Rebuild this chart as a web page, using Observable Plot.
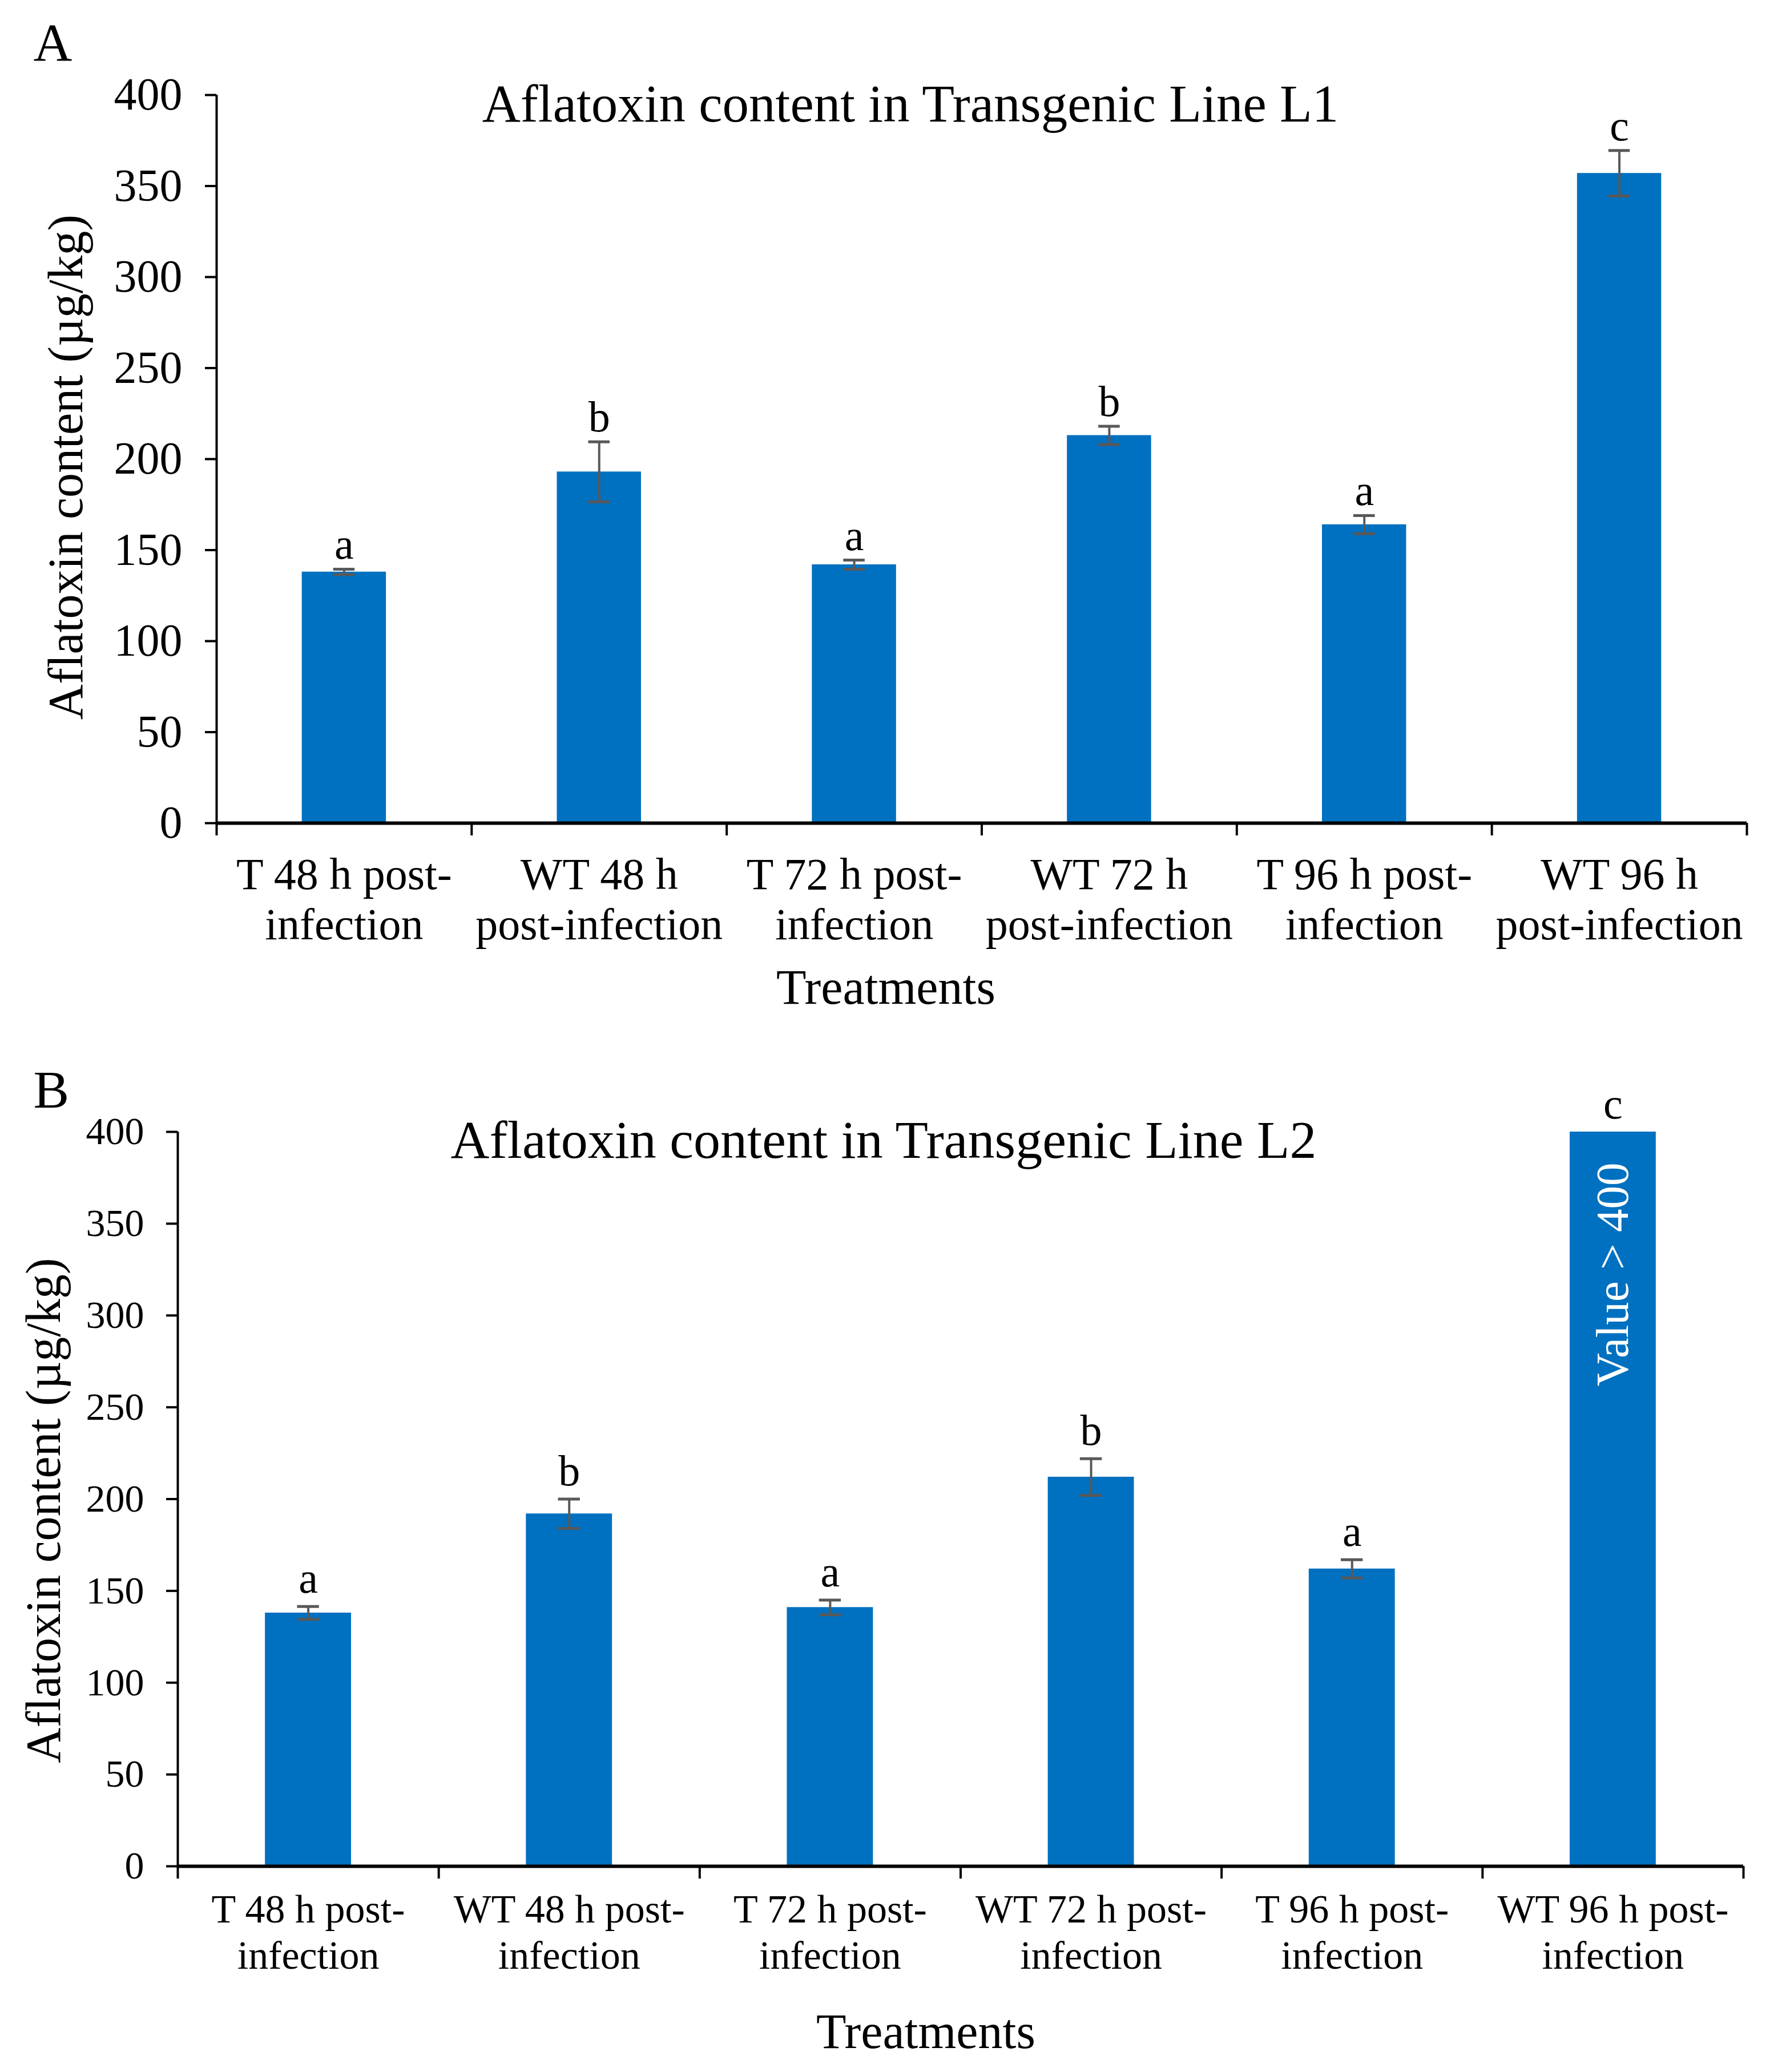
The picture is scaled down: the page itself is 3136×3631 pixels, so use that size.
<!DOCTYPE html>
<html><head><meta charset="utf-8">
<script src="https://cdn.jsdelivr.net/npm/d3@7"></script>
<script src="https://cdn.jsdelivr.net/npm/@observablehq/plot@0.6"></script>
<style>
html,body{margin:0;padding:0;background:#fff;}
#wrap{width:3136px;height:3631px;background:#fff;}
#wrap svg{display:block;}
</style></head>
<body><div id="wrap"></div>
<script>
const categoriesA = ["T 48 h post-\ninfection","WT 48 h\npost-infection","T 72 h post-\ninfection","WT 72 h\npost-infection","T 96 h post-\ninfection","WT 96 h\npost-infection"];
const categoriesB = ["T 48 h post-\ninfection","WT 48 h post-\ninfection","T 72 h post-\ninfection","WT 72 h post-\ninfection","T 96 h post-\ninfection","WT 96 h post-\ninfection"];
const valuesA = [138, 193, 142, 213, 164, 357];
const errorsA = [1.5, 16.5, 2.5, 5, 5, 12.5];
const lettersA = ["a","b","a","b","a","c"];
const valuesB = [138, 192, 141, 212, 162, 400];
const errorsB = [3.5, 8, 4, 10, 5, null];
const lettersB = ["a","b","a","b","a","c"];
const yTicks = [0, 50, 100, 150, 200, 250, 300, 350, 400];
const titleA = "Aflatoxin content in Transgenic Line L1";
const titleB = "Aflatoxin content in Transgenic Line L2";
const yLabel = "Aflatoxin content (\u00b5g/kg)";
const xLabel = "Treatments";
const noteB = "Value > 400";

const FONT = "'Liberation Serif','Times New Roman',serif";
const BLUE = "#0070C0";
const ERR = "#595959";

function panel(cfg) {
  const data = cfg.cats.map((c, i) => ({i, cat: c, value: cfg.values[i], err: cfg.errors[i], letter: cfg.letters[i]}));
  const withErr = data.filter(d => d.err != null);
  const top = d => d.value + (d.err ?? 0);
  const half = 0.165, cap = 0.042;
  const marks = [
    Plot.rectY(data, {x1: d => d.i + 0.5 - half, x2: d => d.i + 0.5 + half, y1: 0, y2: "value", fill: BLUE}),
    Plot.ruleX(withErr, {x: d => d.i + 0.5, y1: d => d.value - d.err, y2: d => d.value + d.err, stroke: ERR, strokeWidth: 4}),
    Plot.ruleY(withErr, {x1: d => d.i + 0.5 - cap, x2: d => d.i + 0.5 + cap, y: d => d.value + d.err, stroke: ERR, strokeWidth: 5}),
    Plot.ruleY(withErr, {x1: d => d.i + 0.5 - cap, x2: d => d.i + 0.5 + cap, y: d => d.value - d.err, stroke: ERR, strokeWidth: 5}),
    Plot.text(data, {x: d => d.i + 0.5, y: top, text: "letter", lineAnchor: "bottom", dy: cfg.letterDy, fontSize: cfg.letterSize, fill: "black"}),
    Plot.ruleX([0], {y1: 0, y2: 400, stroke: "black", strokeWidth: 4}),
    Plot.ruleY([0], {x1: 0, x2: 6, stroke: "black", strokeWidth: 6}),
    Plot.axisY({ticks: yTicks, tickSize: 20, tickPadding: cfg.yPad, fontSize: cfg.tickSize, strokeWidth: 4, tickFormat: d => String(d), label: null}),
    Plot.axisX({ticks: d3.range(7), tickSize: 22, strokeWidth: 4, tickFormat: () => "", label: null}),
    Plot.text(data, {x: d => d.i + 0.5, text: "cat", frameAnchor: "bottom", textAnchor: "middle", lineAnchor: "top", dy: cfg.catDy, fontSize: cfg.catSize, lineHeight: cfg.catLH, fill: "black"}),
    Plot.text([cfg.title], {frameAnchor: "top", textAnchor: "middle", lineAnchor: "middle", dx: cfg.titleDx, dy: cfg.titleDy, fontSize: cfg.titleSize, fill: "black"}),
    Plot.text([xLabel], {frameAnchor: "bottom", textAnchor: "middle", lineAnchor: "middle", dx: cfg.xlDx, dy: cfg.xlDy, fontSize: cfg.xlSize, fill: "black"}),
    Plot.text([yLabel], {frameAnchor: "left", textAnchor: "middle", lineAnchor: "middle", rotate: -90, dx: cfg.ylDx, dy: cfg.ylDy, fontSize: cfg.ylSize, fill: "black"}),
    Plot.text([cfg.panel], {frameAnchor: "top-left", textAnchor: "start", lineAnchor: "bottom", dx: cfg.pDx, dy: cfg.pDy, fontSize: 94, fill: "black"})
  ];
  if (cfg.note) {
    const last = data[data.length - 1];
    marks.push(Plot.text([last], {x: d => d.i + 0.5, y: "value", text: () => cfg.note, rotate: -90, textAnchor: "end", lineAnchor: "middle", dy: 54, fontSize: 81, fill: "white"}));
  }
  return Plot.plot({
    width: 3136, height: cfg.height,
    marginTop: cfg.mt, marginBottom: cfg.mb, marginLeft: cfg.ml, marginRight: cfg.mr,
    style: {fontFamily: FONT, background: "white", color: "black", overflow: "visible"},
    x: {type: "linear", domain: [0, 6], axis: null},
    y: {type: "linear", domain: [0, 400], axis: null},
    marks
  });
}

const wrap = document.getElementById("wrap");
wrap.append(panel({
  panel: "A", cats: categoriesA, values: valuesA, errors: errorsA, letters: lettersA, title: titleA,
  height: 1800, mt: 166, mb: 358, ml: 379, mr: 76,
  tickSize: 80, yPad: 40, letterSize: 76, letterDy: -18,
  catDy: 53, catSize: 78, catLH: 1.13,
  titleDx: -125, titleDy: 17, titleSize: 93,
  xlDx: -168, xlDy: 289, xlSize: 86,
  ylDx: -263, ylDy: 14, ylSize: 86,
  pDx: -321, pDy: -61
}));
wrap.append(panel({
  panel: "B", cats: categoriesB, values: valuesB, errors: errorsB, letters: lettersB, title: titleB, note: noteB,
  height: 1831, mt: 183, mb: 361, ml: 311, mr: 82,
  tickSize: 68, yPad: 39, letterSize: 76, letterDy: -24,
  catDy: 41, catSize: 70, catLH: 1.16,
  titleDx: -135, titleDy: 15, titleSize: 94,
  xlDx: -61, xlDy: 291, xlSize: 86,
  ylDx: -234, ylDy: 20, ylSize: 86,
  pDx: -253, pDy: -43
}));
</script>
</body></html>
